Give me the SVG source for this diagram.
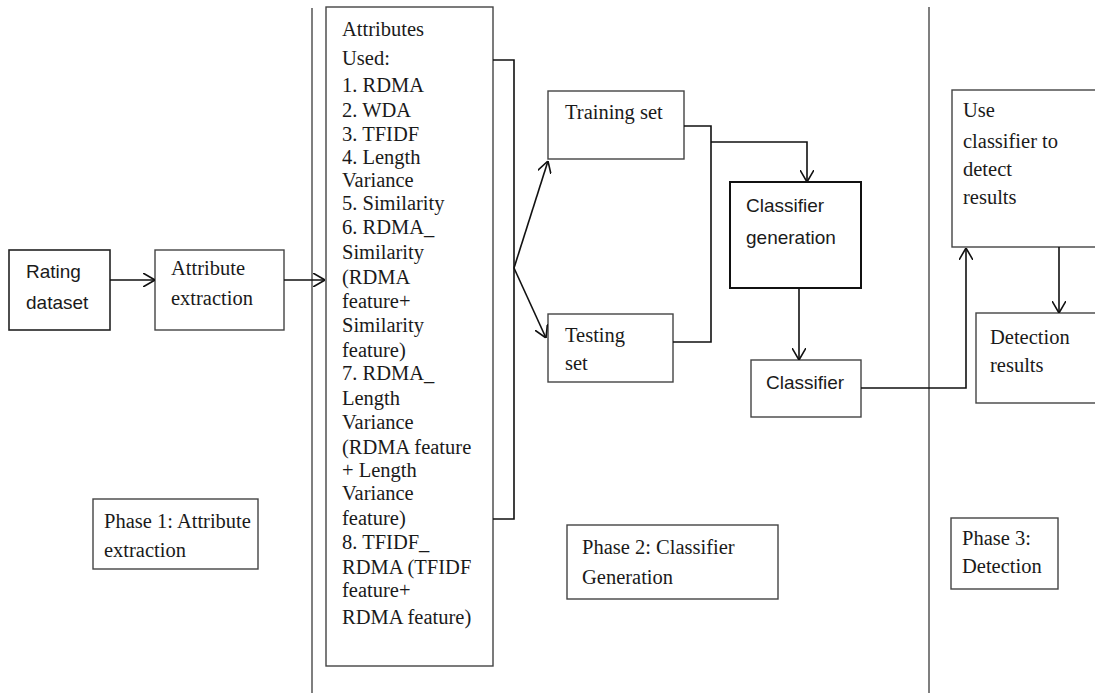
<svg xmlns="http://www.w3.org/2000/svg" width="1095" height="700" viewBox="0 0 1095 700">
<style>
.box{fill:#fff;stroke:#444;stroke-width:1.4}
.bold{fill:#fff;stroke:#111;stroke-width:2}
.ser{font-family:"Liberation Serif","Times New Roman",serif;font-size:20.5px;fill:#1a1a1a}
.san{font-family:"Liberation Sans",Arial,sans-serif;font-size:19px;fill:#1a1a1a}
.con{fill:none;stroke:#111;stroke-width:1.6}
.div{stroke:#555;stroke-width:1.5}
</style>
<defs>
<marker id="arr" viewBox="0 0 12 14" refX="12" refY="7" markerWidth="12" markerHeight="14" markerUnits="userSpaceOnUse" orient="auto">
<path d="M0,0 L12,7 L0,14" fill="none" stroke="#111" stroke-width="1.6"/>
</marker>
</defs>
<rect width="1095" height="700" fill="#fff"/>
<g id="dividers">
<line class="div" x1="312" y1="8" x2="312" y2="693"/>
<line class="div" x1="929" y1="7" x2="929" y2="693"/>
</g>
<g id="rating">
<rect class="box" style="stroke:#222;stroke-width:1.6" x="9" y="250" width="101" height="80"/>
<text class="san" x="26" y="278">Rating</text>
<text class="san" x="26" y="309">dataset</text>
</g>
<g id="extraction">
<rect class="box" x="155" y="250" width="129" height="80"/>
<text class="ser" x="171" y="275">Attribute</text>
<text class="ser" x="171" y="305">extraction</text>
</g>
<g id="attributes">
<rect class="box" x="326" y="7" width="167" height="659"/>
<text class="ser" x="342">
<tspan x="342" y="36">Attributes</tspan>
<tspan x="342" y="65">Used:</tspan>
<tspan x="342" y="92">1. RDMA</tspan>
<tspan x="342" y="117">2. WDA</tspan>
<tspan x="342" y="141">3. TFIDF</tspan>
<tspan x="342" y="164">4. Length</tspan>
<tspan x="342" y="187">Variance</tspan>
<tspan x="342" y="210">5. Similarity</tspan>
<tspan x="342" y="234">6. RDMA_</tspan>
<tspan x="342" y="259">Similarity</tspan>
<tspan x="342" y="284">(RDMA</tspan>
<tspan x="342" y="308">feature+</tspan>
<tspan x="342" y="332">Similarity</tspan>
<tspan x="342" y="357">feature)</tspan>
<tspan x="342" y="380">7. RDMA_</tspan>
<tspan x="342" y="405">Length</tspan>
<tspan x="342" y="429">Variance</tspan>
<tspan x="342" y="454">(RDMA feature</tspan>
<tspan x="342" y="477">+ Length</tspan>
<tspan x="342" y="500">Variance</tspan>
<tspan x="342" y="525">feature)</tspan>
<tspan x="342" y="549">8. TFIDF_</tspan>
<tspan x="342" y="574">RDMA (TFIDF</tspan>
<tspan x="342" y="597">feature+</tspan>
<tspan x="342" y="624">RDMA feature)</tspan>
</text>
</g>
<g id="training">
<rect class="box" x="548" y="91" width="136" height="68"/>
<text class="ser" x="565" y="119">Training set</text>
</g>
<g id="testing">
<rect class="box" x="548" y="314" width="125" height="68"/>
<text class="ser" x="565" y="342">Testing</text>
<text class="ser" x="565" y="370">set</text>
</g>
<g id="generation">
<rect class="bold" x="730" y="182" width="131" height="106"/>
<text class="san" x="746" y="212">Classifier</text>
<text class="san" x="746" y="244">generation</text>
</g>
<g id="classifier">
<rect class="box" x="751" y="360" width="110" height="57"/>
<text class="san" x="766" y="389">Classifier</text>
</g>
<g id="use">
<rect class="box" x="952" y="90" width="150" height="157"/>
<text class="ser" x="963" y="117">Use</text>
<text class="ser" x="963" y="148">classifier to</text>
<text class="ser" x="963" y="176">detect</text>
<text class="ser" x="963" y="204">results</text>
</g>
<g id="detection">
<rect class="box" x="976" y="313" width="130" height="90"/>
<text class="ser" x="990" y="344">Detection</text>
<text class="ser" x="990" y="372">results</text>
</g>
<g id="phase1">
<rect class="box" x="93" y="499" width="165" height="70"/>
<text class="ser" x="104" y="528">Phase 1: Attribute</text>
<text class="ser" x="104" y="557">extraction</text>
</g>
<g id="phase2">
<rect class="box" x="567" y="525" width="211" height="74"/>
<text class="ser" x="582" y="554">Phase 2: Classifier</text>
<text class="ser" x="582" y="584">Generation</text>
</g>
<g id="phase3">
<rect class="box" x="951" y="518" width="107" height="71"/>
<text class="ser" x="962" y="545">Phase 3:</text>
<text class="ser" x="962" y="573">Detection</text>
</g>
<g id="connectors">
<line class="con" x1="110" y1="280" x2="155" y2="280" marker-end="url(#arr)"/>
<line class="con" x1="284" y1="280" x2="325" y2="280" marker-end="url(#arr)"/>
<polyline class="con" points="493,60 514,60 514,519 493,519"/>
<line class="con" x1="514" y1="268" x2="548" y2="161" marker-end="url(#arr)"/>
<line class="con" x1="514" y1="268" x2="546" y2="338" marker-end="url(#arr)"/>
<polyline class="con" points="684,126 711,126 711,342 673,342"/>
<polyline class="con" points="711,142 807,142 807,182" marker-end="url(#arr)"/>
<line class="con" x1="799" y1="288" x2="799" y2="360" marker-end="url(#arr)"/>
<polyline class="con" points="861,388 966,388 966,248" marker-end="url(#arr)"/>
<line class="con" x1="1059" y1="247" x2="1059" y2="313" marker-end="url(#arr)"/>
</g>
</svg>
